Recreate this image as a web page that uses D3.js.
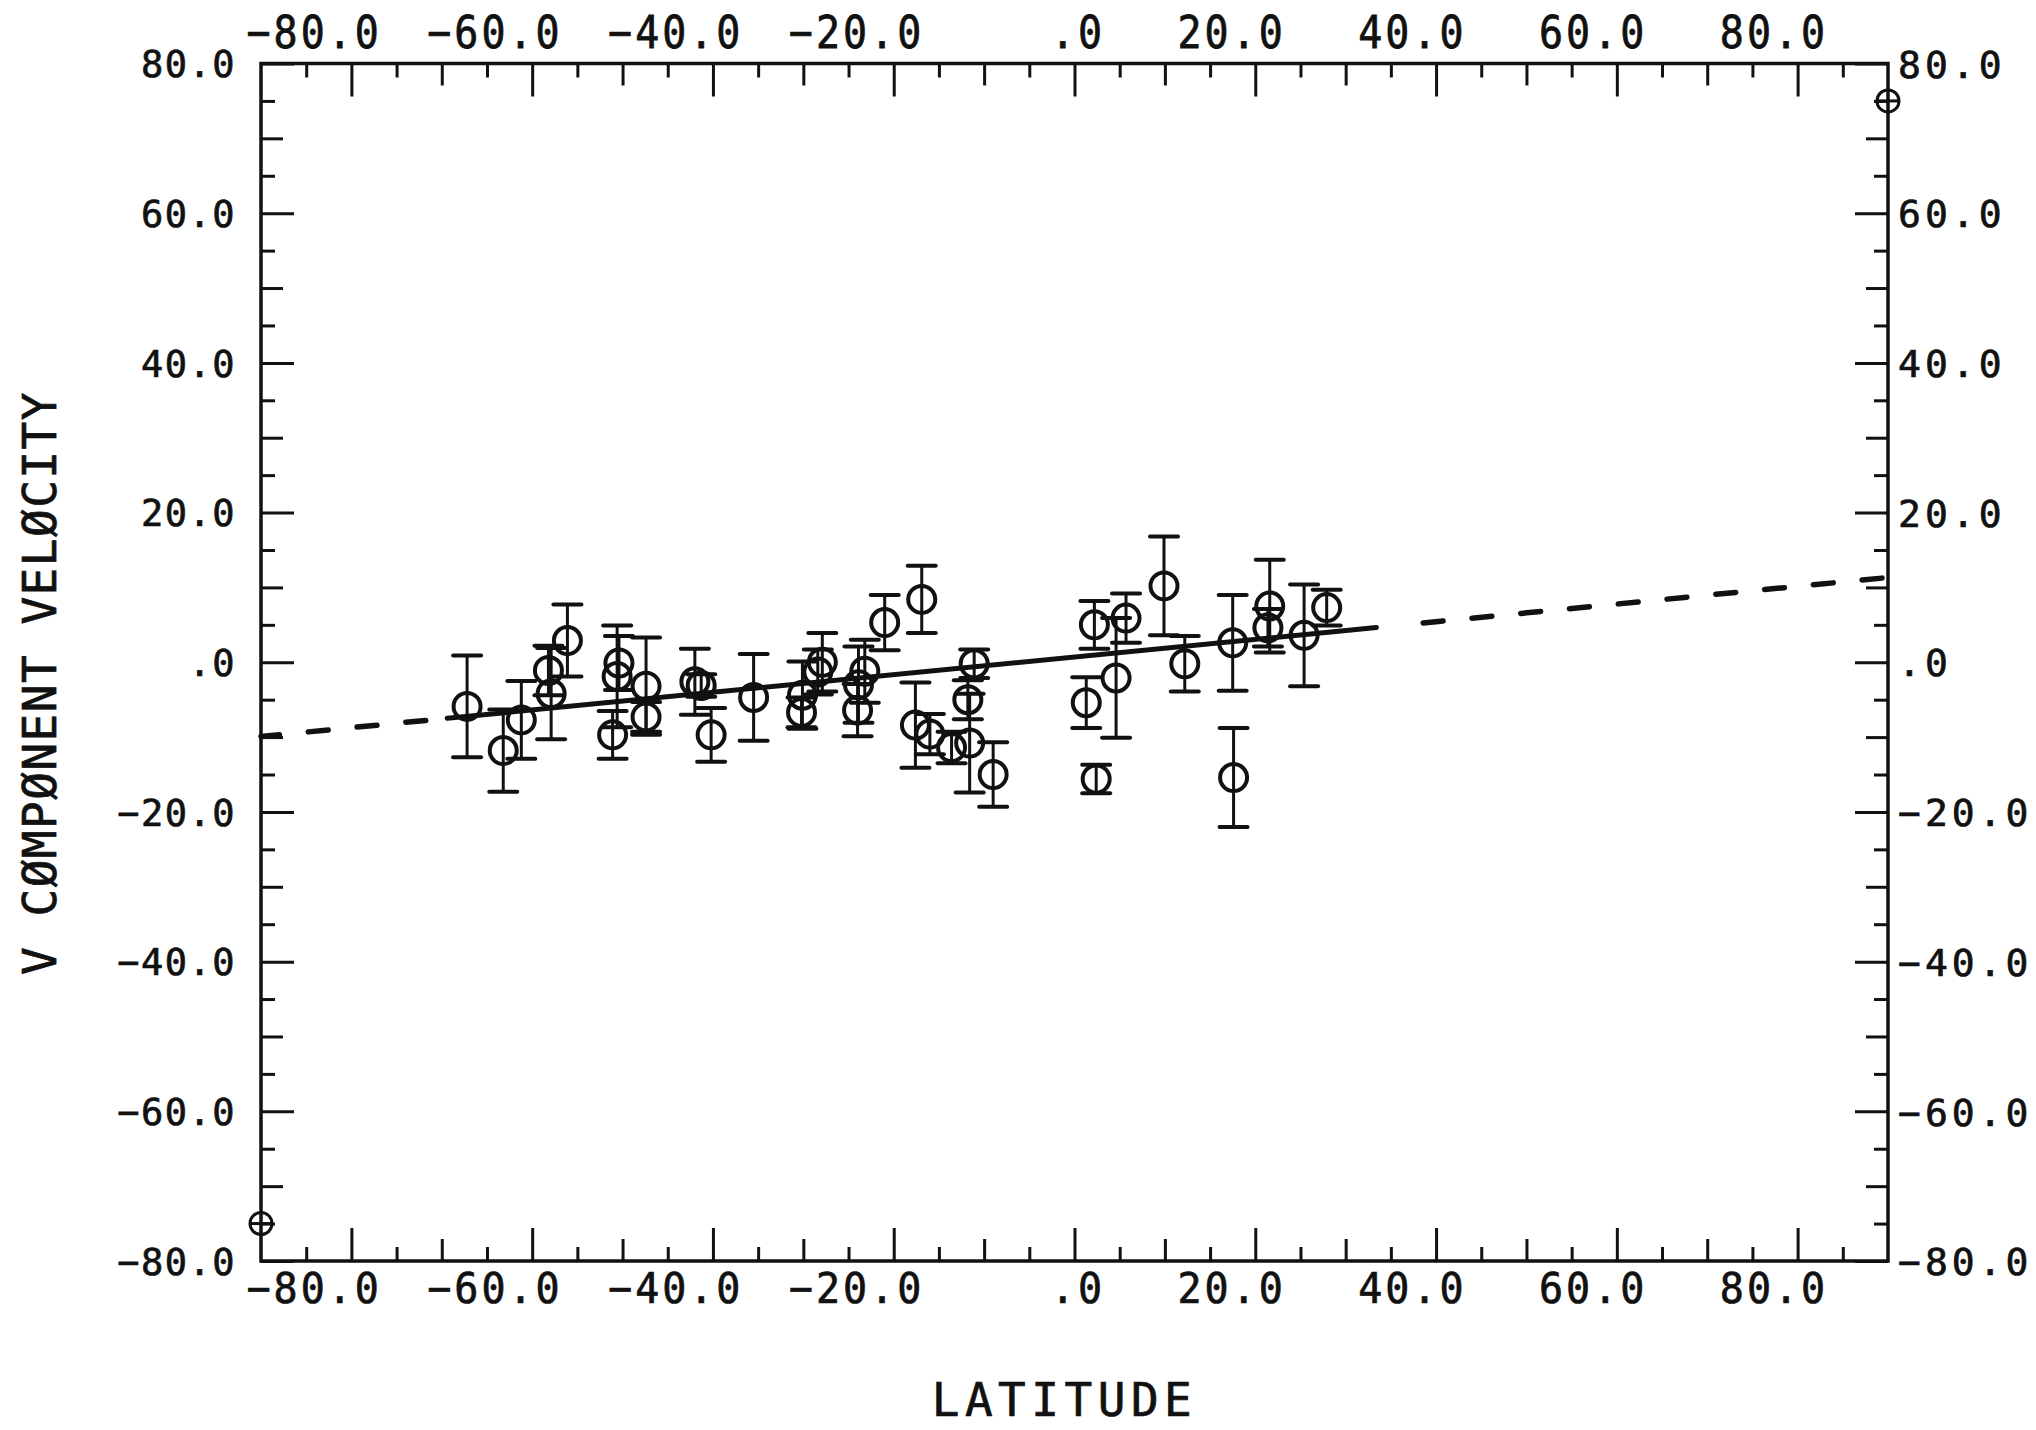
<!DOCTYPE html>
<html>
<head>
<meta charset="utf-8">
<script src="https://cdn.jsdelivr.net/npm/d3@7"></script>
<style>
  html, body { margin: 0; padding: 0; background: #fff; }
  svg { display: block; background: #fff; }
  .lbl { font-family: "DejaVu Sans Mono", "Liberation Mono", monospace; fill: #111;
         stroke: #111; stroke-width: 0.7px; }
  .tick line { stroke: #111; stroke-width: 3; }
</style>
</head>
<body>
<svg id="chart" width="2036" height="1430"></svg>
<script>
// Station latitudes (deg), V component of velocity and its one-sigma error
const latitude = [-67.2, -63.2, -61.2, -58.2, -57.9, -56.1, -50.4, -50.6, -51.1, -47.4,
                  -47.4, -42.0, -41.3, -40.2, -35.5, -30.1, -30.2, -28.4, -27.9, -23.2,
                  -23.9, -24.0, -21.0, -16.9, -17.6, -16.0, -13.6, -11.1, -11.8, -11.6,
                  -9.0, 1.3, 2.2, 2.4, 4.6, 5.7, 9.9, 12.2, 17.5, 17.6,
                  21.6, 21.4, 25.4, 27.9];
const vComponent = [-5.9, -11.8, -7.7, -1.1, -4.2, 2.9, -0.1, -1.9, -9.7, -3.2,
                    -7.3, -2.6, -3.1, -9.7, -4.7, -4.4, -6.7, -1.3, 0.0, -1.2,
                    -3.0, -6.4, 5.3, 8.4, -8.4, -9.6, -11.4, -0.2, -5.0, -10.8,
                    -15.0, -5.4, 5.0, -15.6, -2.1, 5.9, 10.2, -0.2, 2.6, -15.4,
                    7.5, 4.6, 3.6, 7.3];
const vError = [6.8, 5.5, 5.2, 3.3, 6.1, 4.8, 3.6, 6.8, 3.2, 6.5,
                2.0, 4.4, 1.5, 3.6, 5.8, 4.5, 2.0, 3.0, 3.9, 4.2,
                5.1, 3.5, 3.7, 4.5, 5.7, 2.7, 2.1, 1.9, 2.6, 6.6,
                4.3, 3.4, 3.2, 1.9, 8.0, 3.3, 6.6, 3.7, 6.4, 6.6,
                6.2, 2.5, 6.8, 2.4];

// Plot-limit markers drawn by the plotting package at opposite corners
const limitLat = [-90, 90];
const limitV = [-75, 75];

// Least-squares fit v = a + b * latitude
const fitIntercept = 0.7;
const fitSlope = 0.118;
const fitSolid = [-69.4, 33.4];               // fitted latitude range
const fitDashed = [[-71.5, -90], [38.3, 90]]; // extrapolation

// Axis ticks
const majorTicks = [-80, -60, -40, -20, 0, 20, 40, 60, 80];
const mediumTicks = [-70, -50, -30, -10, 10, 30, 50, 70];
const minorTicksX = [-85, -75, -65, -55, -45, -35, -25, -15, -5, 5, 15, 25, 35, 45, 55, 65, 75, 85];
const minorTicksY = [-75, -65, -55, -45, -35, -25, -15, -5, 5, 15, 25, 35, 45, 55, 65, 75];

const xTitle = "LATITUDE";
const yTitle = "V C\u00D8MP\u00D8NENT VEL\u00D8CITY";

// ---------------------------------------------------------------
const svg = d3.select("#chart");
const ink = "#111";

const x = d3.scaleLinear().domain([-90, 90]).range([261, 1888]);
const y = d3.scaleLinear().domain([-80, 80]).range([1261, 63.5]);

// Fortran-style labels: ".0" for zero, one decimal otherwise
const fmt = v => v === 0 ? ".0" : (v < 0 ? "\u2212" : "") + Math.abs(v).toFixed(1);

const sizes = { major: 33, medium: 22, minor: 14 };

function addTicks(axisGen, scale, values, size, transform, withLabels) {
  const g = svg.append("g")
    .attr("transform", transform)
    .call(axisGen(scale).tickValues(values).tickSize(-size).tickSizeOuter(0)
      .tickFormat(withLabels ? fmt : ""));
  g.select(".domain").remove();
  g.attr("font-size", null).attr("font-family", null);
  return g;
}

// tall, plotter-like tick labels: scale the glyphs, keep the anchor point
function styleLabels(g, o) {
  g.selectAll("text")
    .attr("class", "lbl")
    .attr("font-size", o.size)
    .attr("letter-spacing", o.ls)
    .attr("text-anchor", o.anchor)
    .attr("transform", `scale(${o.sx},${o.sy})`)
    .attr("x", o.x / o.sx)
    .attr("y", o.y / o.sy)
    .attr("dy", o.dy);
}

const topT = `translate(0,${y(80)})`;
const botT = `translate(0,${y(-80)})`;
const leftT = `translate(${x(-90)},0)`;
const rightT = `translate(${x(90)},0)`;

// minor / medium ticks on all four sides, pointing inward
[[mediumTicks, sizes.medium], [minorTicksX, sizes.minor]].forEach(([vals, s]) => {
  addTicks(d3.axisTop, x, vals, s, topT, false);
  addTicks(d3.axisBottom, x, vals, s, botT, false);
});
[[mediumTicks, sizes.medium], [minorTicksY, sizes.minor]].forEach(([vals, s]) => {
  addTicks(d3.axisLeft, y, vals, s, leftT, false);
  addTicks(d3.axisRight, y, vals, s, rightT, false);
});

// major ticks with labels
styleLabels(addTicks(d3.axisTop, x, majorTicks, sizes.major, topT, true),
  { size: 40, ls: 3, anchor: "end", sx: 1, sy: 1.12, x: 30, y: -16, dy: 0 });
styleLabels(addTicks(d3.axisBottom, x, majorTicks, sizes.major, botT, true),
  { size: 40, ls: 3, anchor: "end", sx: 1, sy: 1.05, x: 30, y: 42, dy: 0 });
styleLabels(addTicks(d3.axisLeft, y, majorTicks, sizes.major, leftT, true),
  { size: 37, ls: 1.5, anchor: "end", sx: 1, sy: 1.0, x: -25, y: 0, dy: "0.36em" });
styleLabels(addTicks(d3.axisRight, y, majorTicks, sizes.major, rightT, true),
  { size: 38, ls: 4, anchor: "start", sx: 1, sy: 1.0, x: 10, y: 0, dy: "0.36em" });

// frame
svg.append("rect")
  .attr("x", x(-90)).attr("y", y(80))
  .attr("width", x(90) - x(-90)).attr("height", y(-80) - y(80))
  .attr("fill", "none").attr("stroke", ink).attr("stroke-width", 3.5);

// fitted line: solid over the data range, dashed extrapolation to the frame
const fitLine = d3.line()
  .x(d => x(d))
  .y(d => y(fitIntercept + fitSlope * d));

svg.append("path").datum(fitSolid).attr("d", fitLine)
  .attr("fill", "none").attr("stroke", ink).attr("stroke-width", 5)
  .attr("stroke-linecap", "round");

fitDashed.forEach(seg => {
  svg.append("path").datum(seg).attr("d", fitLine)
    .attr("fill", "none").attr("stroke", ink).attr("stroke-width", 5.5)
    .attr("stroke-linecap", "round").attr("stroke-dasharray", "20 29")
    .attr("stroke-dashoffset", -2.5);
});

// error bars
const pts = latitude.map((lat, i) => ({ lat, v: vComponent[i], e: vError[i] }));
const capHalf = 14;
const bars = svg.append("g").attr("stroke", ink);
bars.selectAll("line.stem").data(pts).join("line").attr("class", "stem")
  .attr("x1", d => x(d.lat)).attr("x2", d => x(d.lat))
  .attr("y1", d => y(d.v + d.e)).attr("y2", d => y(d.v - d.e))
  .attr("stroke-width", 3);
bars.selectAll("line.capTop").data(pts).join("line").attr("class", "capTop")
  .attr("x1", d => x(d.lat) - capHalf).attr("x2", d => x(d.lat) + capHalf)
  .attr("y1", d => y(d.v + d.e)).attr("y2", d => y(d.v + d.e))
  .attr("stroke-width", 4).attr("stroke-linecap", "round");
bars.selectAll("line.capBot").data(pts).join("line").attr("class", "capBot")
  .attr("x1", d => x(d.lat) - capHalf).attr("x2", d => x(d.lat) + capHalf)
  .attr("y1", d => y(d.v - d.e)).attr("y2", d => y(d.v - d.e))
  .attr("stroke-width", 4).attr("stroke-linecap", "round");

// open circle markers
svg.append("g").selectAll("circle").data(pts).join("circle")
  .attr("cx", d => x(d.lat)).attr("cy", d => y(d.v)).attr("r", 13.5)
  .attr("fill", "none").attr("stroke", ink).attr("stroke-width", 4);

// corner limit markers (circle with a bar)
const lim = limitLat.map((lat, i) => ({ lat, v: limitV[i] }));
const limG = svg.append("g").attr("stroke", ink).attr("fill", "none");
limG.selectAll("circle").data(lim).join("circle")
  .attr("cx", d => x(d.lat)).attr("cy", d => y(d.v)).attr("r", 11)
  .attr("stroke-width", 3);
limG.selectAll("line").data(lim).join("line")
  .attr("x1", d => x(d.lat) - 11).attr("x2", d => x(d.lat) + 11)
  .attr("y1", d => y(d.v)).attr("y2", d => y(d.v))
  .attr("stroke-width", 3);

// axis titles
svg.append("text").attr("class", "lbl")
  .attr("x", (x(-90) + x(90)) / 2 - 10).attr("y", 1416)
  .attr("font-size", 46).attr("letter-spacing", 5.5)
  .attr("text-anchor", "middle").text(xTitle);

svg.append("text").attr("class", "lbl")
  .attr("transform", `translate(56,683) rotate(-90)`)
  .attr("font-size", 46).attr("letter-spacing", 1.5)
  .attr("text-anchor", "middle").text(yTitle);
</script>
</body>
</html>
